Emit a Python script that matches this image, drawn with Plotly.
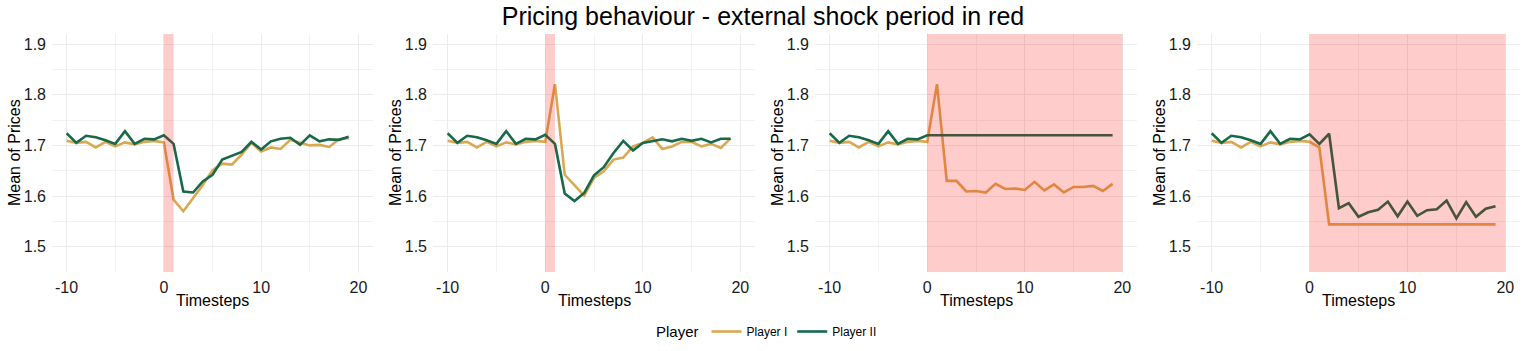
import plotly.graph_objects as go
from plotly.subplots import make_subplots

# timesteps -10 .. 19
timesteps = list(range(-10, 20))

# shared pre-shock history (t = -10 .. -1)
pre_p1 = [1.709, 1.705, 1.707, 1.696, 1.707, 1.698, 1.706, 1.702, 1.707, 1.709]
pre_p2 = [1.724, 1.705, 1.719, 1.716, 1.710, 1.703, 1.728, 1.703, 1.713, 1.712]

# post-shock (t = 0 .. 19), one list per scenario
s1_p1 = [1.706, 1.593, 1.570, 1.596, 1.622, 1.651, 1.664, 1.662, 1.682, 1.705,
         1.688, 1.696, 1.693, 1.711, 1.705, 1.700, 1.701, 1.697, 1.712, 1.714]
s1_p2 = [1.720, 1.703, 1.609, 1.607, 1.629, 1.642, 1.672, 1.679, 1.687, 1.707,
         1.692, 1.708, 1.713, 1.715, 1.701, 1.720, 1.708, 1.712, 1.711, 1.717]

s2_p1 = [1.707, 1.821, 1.642, 1.622, 1.601, 1.636, 1.649, 1.672, 1.676, 1.698,
         1.705, 1.716, 1.693, 1.698, 1.707, 1.707, 1.698, 1.703, 1.695, 1.714]
s2_p2 = [1.721, 1.703, 1.605, 1.590, 1.606, 1.641, 1.657, 1.685, 1.709, 1.690,
         1.705, 1.709, 1.712, 1.708, 1.713, 1.709, 1.713, 1.706, 1.713, 1.713]

s3_p1 = [1.707, 1.821, 1.630, 1.630, 1.609, 1.610, 1.607, 1.624, 1.614, 1.615,
         1.612, 1.628, 1.611, 1.623, 1.607, 1.618, 1.618, 1.620, 1.610, 1.624]
s3_p2 = [1.720] * 20

s4_p1 = [1.707, 1.696] + [1.544] * 18
s4_p2 = [1.722, 1.703, 1.723, 1.576, 1.586, 1.559, 1.568, 1.573, 1.589, 1.560,
         1.589, 1.561, 1.572, 1.574, 1.591, 1.556, 1.588, 1.559, 1.575, 1.580]

# shock windows per panel (start, end)
shock_windows = [(0, 1), (0, 1), (0, 20), (0, 20)]

x_ticks = [-10, 0, 10, 20]
x_ticklabels = ["-10", "0", "10", "20"]
y_ticks = [1.5, 1.6, 1.7, 1.8, 1.9]
y_ticklabels = ["1.5", "1.6", "1.7", "1.8", "1.9"]

player_names = ["Player I", "Player II"]
player_colors = ["#DAA852", "#17694A"]

scenarios = [
    (pre_p1 + s1_p1, pre_p2 + s1_p2),
    (pre_p1 + s2_p1, pre_p2 + s2_p2),
    (pre_p1 + s3_p1, pre_p2 + s3_p2),
    (pre_p1 + s4_p1, pre_p2 + s4_p2),
]

W, H = 1527, 351
FONT = "Liberation Sans, Arial, Helvetica, sans-serif"


def px_x(p):
    return p / W


def px_y(p):
    return 1 - p / H


fig = make_subplots(rows=1, cols=4)

for i, series in enumerate(scenarios):
    for j, values in enumerate(series):
        fig.add_trace(
            go.Scatter(
                x=timesteps,
                y=values,
                mode="lines",
                name=player_names[j],
                legendgroup=player_names[j],
                showlegend=(i == 0),
                line=dict(color=player_colors[j], width=2.6),
            ),
            row=1,
            col=i + 1,
        )

# panel positions in pixels
panel_px = [(52, 373), (433, 755), (815, 1137), (1197, 1520)]
plot_top, plot_bottom = 34, 272
y_dom = [px_y(plot_bottom), px_y(plot_top)]

for i, ((x0, x1), (s0, s1)) in enumerate(zip(panel_px, shock_windows)):
    ax = "" if i == 0 else str(i + 1)
    fig.add_shape(
        type="rect",
        xref=f"x{ax}",
        yref=f"y{ax} domain",
        x0=s0,
        x1=s1,
        y0=0,
        y1=1,
        fillcolor="red",
        opacity=0.2,
        line=dict(width=0),
        layer="above",
    )
    fig.update_xaxes(
        domain=[px_x(x0), px_x(x1)],
        range=[-11.5, 21.5],
        tickvals=x_ticks,
        ticktext=x_ticklabels,
        showgrid=True,
        gridcolor="#EBEBEB",
        gridwidth=1.2,
        minor=dict(tickvals=[-5, 5, 15], showgrid=True, gridcolor="#F2F2F2", gridwidth=0.8),
        zeroline=False,
        showline=False,
        ticks="",
        ticklabelstandoff=4,
        automargin=False,
        tickfont=dict(size=16, color="#1a1a1a"),
        row=1,
        col=i + 1,
    )
    fig.update_yaxes(
        domain=y_dom,
        range=[1.45, 1.92],
        tickvals=y_ticks,
        ticktext=y_ticklabels,
        showgrid=True,
        gridcolor="#EBEBEB",
        gridwidth=1.2,
        minor=dict(tickvals=[1.45, 1.55, 1.65, 1.75, 1.85], showgrid=True,
                   gridcolor="#F2F2F2", gridwidth=0.8),
        zeroline=False,
        showline=False,
        ticks="",
        ticklabelstandoff=5,
        automargin=False,
        tickfont=dict(size=16, color="#1a1a1a"),
        row=1,
        col=i + 1,
    )
    # axis titles
    fig.add_annotation(
        text="Timesteps", xref="paper", yref="paper",
        x=px_x((x0 + x1) / 2), y=px_y(300), xanchor="center", yanchor="middle",
        showarrow=False, font=dict(size=16, color="#000"),
    )
    fig.add_annotation(
        text="Mean of Prices", xref="paper", yref="paper",
        x=px_x(x0 - 38), y=px_y((plot_top + plot_bottom) / 2),
        xanchor="center", yanchor="middle", textangle=-90,
        showarrow=False, font=dict(size=16, color="#000"),
    )

fig.update_layout(
    width=W,
    height=H,
    margin=dict(l=0, r=0, t=0, b=0),
    plot_bgcolor="white",
    paper_bgcolor="white",
    font=dict(family=FONT, color="#000"),
    title=dict(
        text="Pricing behaviour - external shock period in red",
        x=px_x(763),
        xanchor="center",
        y=px_y(16),
        yanchor="middle",
        font=dict(size=25, color="#000"),
    ),
    legend=dict(
        orientation="h",
        x=px_x(768),
        xanchor="center",
        y=px_y(332),
        yanchor="middle",
        title=dict(text="Player", font=dict(size=15)),
        font=dict(size=12),
        itemwidth=30,
    ),
    hovermode="closest",
)

# drop the default 8px page margin so the figure fills the window exactly
fig.write_html(
    "out.html",
    config={"displayModeBar": False},
    post_script="document.body.style.margin = '0';",
)
